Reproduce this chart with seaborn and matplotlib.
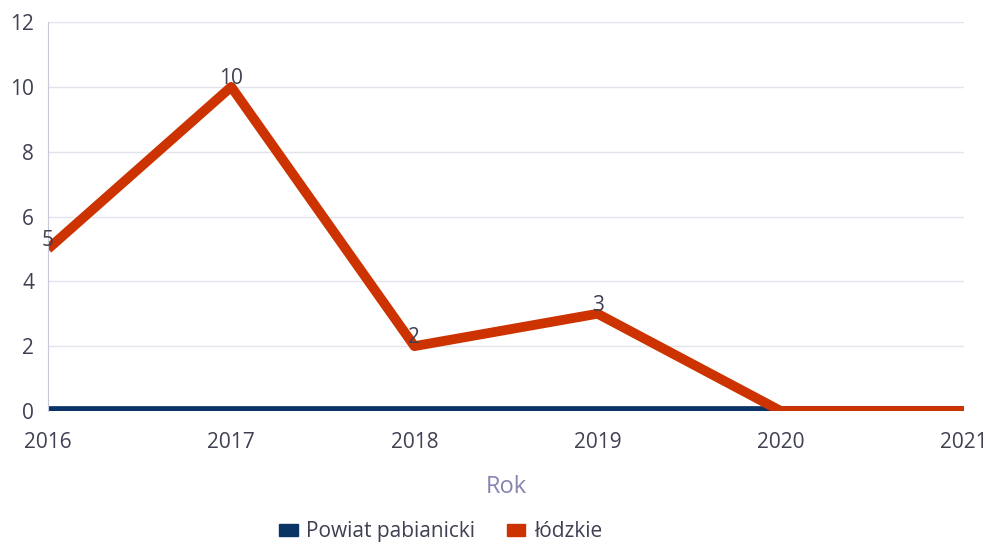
import pandas as pd
import matplotlib
matplotlib.use("Agg")
import matplotlib.pyplot as plt
import seaborn as sns
from matplotlib.patches import Patch

# dane
lata = [2016, 2017, 2018, 2019, 2020, 2021]
powiat_pabianicki = [0, 0, 0, 0, 0, 0]
lodzkie = [5, 10, 2, 3, 0, 0]

kolor_powiat = "#0b3466"
kolor_lodzkie = "#cc3300"
kolor_tekst = "#3f4052"

df = pd.DataFrame({
    "Rok": lata * 2,
    "Wartosc": powiat_pabianicki + lodzkie,
    "Seria": ["Powiat pabianicki"] * len(lata) + ["łódzkie"] * len(lata),
})

sns.set_style("white")
plt.rcParams["font.family"] = ["Open Sans", "DejaVu Sans"]

fig = plt.figure(figsize=(9.86, 5.45), dpi=100)
ax = fig.add_axes([0.0487, 0.2459, 0.929, 0.7137])

sns.lineplot(data=df, x="Rok", y="Wartosc", hue="Seria",
             palette=[kolor_powiat, kolor_lodzkie], linewidth=7,
             legend=False, ax=ax, solid_capstyle="butt")

# etykiety danych
for x, y in zip(lata, lodzkie):
    if y != 0:
        ax.annotate(str(y), (x, y), xytext=(0, 6), textcoords="offset points",
                    ha="center", va="center", fontsize=15, color=kolor_tekst)

ax.set_xlim(2016, 2021)
ax.set_ylim(0, 12)
ax.set_yticks(range(0, 13, 2))
ax.set_xticks(lata)
ax.tick_params(axis="both", length=0, labelsize=15, labelcolor=kolor_tekst)
ax.tick_params(axis="x", pad=15)
ax.tick_params(axis="y", pad=10)
ax.grid(axis="y", color="#e3e3ec", linewidth=1)
ax.set_axisbelow(True)
for s in ["top", "right", "bottom"]:
    ax.spines[s].set_visible(False)
ax.spines["left"].set_color("#c8c8dc")

ax.set_xlabel("Rok", fontsize=17, color="#8585b0", labelpad=16)
ax.set_ylabel("")

uchwyty = [Patch(color=kolor_powiat, label="Powiat pabianicki"),
           Patch(color=kolor_lodzkie, label="łódzkie")]
fig.legend(handles=uchwyty, loc="center", bbox_to_anchor=(0.447, 0.024),
           ncol=2, frameon=False, fontsize=15, labelcolor=kolor_tekst,
           handlelength=0.9, handleheight=0.5, handletextpad=0.4,
           columnspacing=1.5)

fig.savefig("out.png", dpi=100)
